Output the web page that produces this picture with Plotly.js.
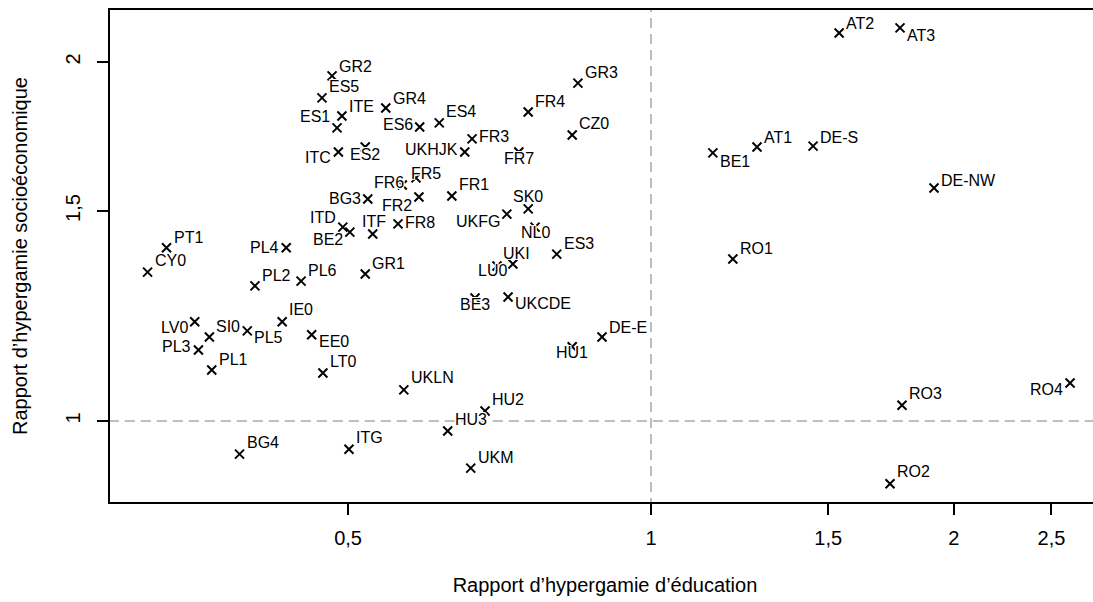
<!DOCTYPE html>
<html>
<head>
<meta charset="utf-8">
<script src="https://cdn.plot.ly/plotly-3.0.1.min.js"></script>
<style>
html,body{margin:0;padding:0;overflow:hidden;background:#ffffff;}
#chart{width:1100px;height:602px;}
</style>
</head>
<body>
<div id="chart"></div>
<script>
// ---- data ----
const regions = ["GR2","ES5","ITE","ES1","GR4","ES6","ES4","ITC","ES2","UKHJK",
  "FR3","FR7","FR4","CZ0","GR3","FR6","FR5","FR2","BG3","FR1",
  "ITD","BE2","ITF","FR8","UKFG","SK0","NL0","ES3","UKI","LU0",
  "BE3","UKCDE","DE-E","HU1","UKLN","HU2","HU3","UKM","PT1","CY0",
  "PL4","PL2","PL6","GR1","LV0","SI0","PL5","IE0","EE0","PL3",
  "PL1","LT0","BG4","ITG","AT2","AT3","BE1","AT1","DE-S","DE-NW",
  "RO1","RO3","RO4","RO2"];
const educationRatio = [0.482,0.471,0.493,0.4875,0.545,0.589,0.616,0.489,0.520,0.653,
  0.664,0.739,0.755,0.835,0.846,0.566,0.584,0.588,0.523,0.634,
  0.494,0.502,0.529,0.5605,0.719,0.755,0.767,0.806,0.729,0.703,
  0.6685,0.721,0.894,0.835,0.568,0.684,0.628,0.662,0.330,0.316,
  0.434,0.404,0.449,0.520,0.352,0.364,0.397,0.430,0.460,0.355,
  0.366,0.472,0.390,0.501,1.538,1.768,1.152,1.2745,1.449,1.911,
  1.206,1.776,2.609,1.728];
const socioRatio = [1.947,1.866,1.802,1.761,1.830,1.764,1.778,1.681,1.697,1.681,
  1.724,1.681,1.816,1.737,1.920,1.577,1.599,1.541,1.535,1.544,
  1.454,1.440,1.435,1.463,1.491,1.506,1.454,1.380,1.354,1.349,
  1.268,1.2705,1.176,1.154,1.062,1.0195,0.981,0.913,1.397,1.333,
  1.397,1.298,1.310,1.328,1.211,1.176,1.190,1.211,1.181,1.147,
  1.1035,1.097,0.938,0.947,2.115,2.136,1.678,1.697,1.700,1.568,
  1.367,1.031,1.076,0.886];
const xTickVals = [0.5, 1, 1.5, 2, 2.5];
const xTickText = ["0,5", "1", "1,5", "2", "2,5"];
const yTickVals = [1, 1.5, 2];
const yTickText = ["1", "1,5", "2"];
const parityLine = 1;

// ---- label placement (pixel offsets from each marker; style only) ----
// R = label right of marker, L = label left of marker, C = centred with dx
const labelSide = ["R","R","R","L","R","L","R","L","C","L",
  "R","C","R","R","R","C","C","L","L","R",
  "L","L","C","R","L","C","C","R","C","C",
  "C","R","R","C","R","R","R","R","R","R",
  "L","R","R","R","L","R","R","R","R","L",
  "R","R","R","R","R","R","R","R","R","R",
  "R","R","L","R"];
const labelDx = [0,0,0,0,0,0,0,0,0,0,
  0,0,0,0,0,-13,10,0,0,0,
  0,0,1,0,0,0,0,0,4,-5,
  0,0,0,0,0,0,0,0,0,0,
  0,0,0,0,0,0,0,0,0,0,
  0,0,0,0,0,0,0,0,0,0,
  0,0,0,0];
const labelDy = [-9,-11,-9,-11,-9,-2,-11,6,7,-2,
  -2,7,-10,-11,-11,-3,-4,8,-1,-11,
  -10,7,-12,-1,7,-12,5,-11,-11,5,
  6,7,-10,6,-12,-12,-11,-11,-10,-12,
  0,-10,-11,-11,6,-11,7,-12,7,-3,
  -10,-12,-12,-12,-9,8,9,-10,-9,-8,
  -11,-12,6,-12];

const FONT = "'Liberation Sans', Arial, Helvetica, sans-serif";
const halo = "1px 0px 0px #fff, -1px 0px 0px #fff, 0px 1px 0px #fff, 0px -1px 0px #fff, 1px 1px 0px #fff, -1px -1px 0px #fff, 1px -1px 0px #fff, -1px 1px 0px #fff";

const traces = [
  {x:[parityLine, parityLine], y:[0.5, 3], mode:"lines", hoverinfo:"skip",
   line:{color:"#bebebe", width:2, dash:"10px,6px"}, showlegend:false},
  {x:[0.1, 5], y:[parityLine, parityLine], mode:"lines", hoverinfo:"skip",
   line:{color:"#bebebe", width:2, dash:"10px,6px"}, showlegend:false},
  {x:educationRatio, y:socioRatio, mode:"markers", type:"scatter", showlegend:false,
   marker:{symbol:"x-thin-open", size:9, color:"#000", line:{color:"#000", width:2}}}
];

const annotations = regions.map((r, i) => {
  const side = labelSide[i];
  return {
    x: Math.log10(educationRatio[i]), y: Math.log10(socioRatio[i]),
    xref:"x", yref:"y", text:r, showarrow:false,
    xanchor: side === "R" ? "left" : (side === "L" ? "right" : "center"),
    yanchor:"middle",
    xshift: side === "R" ? 5 : (side === "L" ? -5 : labelDx[i]),
    yshift: -labelDy[i],
    font:{family:FONT, size:16, color:"#000", shadow:halo}
  };
});

const layout = {
  width:1100, height:602,
  margin:{l:110, r:0, t:10, b:100},
  paper_bgcolor:"#fff", plot_bgcolor:"#fff",
  font:{family:FONT, size:20, color:"#000"},
  showlegend:false,
  xaxis:{type:"log", range:[-0.53765, 0.44622], tickvals:xTickVals, ticktext:xTickText,
    ticks:"outside", ticklen:11, tickwidth:2, tickcolor:"#000",
    showline:true, linewidth:2, linecolor:"#000", mirror:true,
    showgrid:false, zeroline:false, ticklabelstandoff:6,
    tickfont:{family:FONT, size:20, color:"#000"},
    title:{text:"Rapport d’hypergamie d’éducation", font:{family:FONT, size:20, color:"#000"}, standoff:30}},
  yaxis:{type:"log", range:[-0.067911, 0.344586], tickvals:yTickVals, ticktext:yTickText,
    ticks:"outside", ticklen:11, tickwidth:2, tickcolor:"#000", tickangle:-90,
    showline:true, linewidth:2, linecolor:"#000", mirror:true,
    showgrid:false, zeroline:false, ticklabelstandoff:9,
    tickfont:{family:FONT, size:20, color:"#000"},
    title:{text:"Rapport d’hypergamie socioéconomique", font:{family:FONT, size:20, color:"#000"}, standoff:29}},
  annotations: annotations
};

Plotly.newPlot("chart", traces, layout, {displayModeBar:false, staticPlot:true});
</script>
</body>
</html>
